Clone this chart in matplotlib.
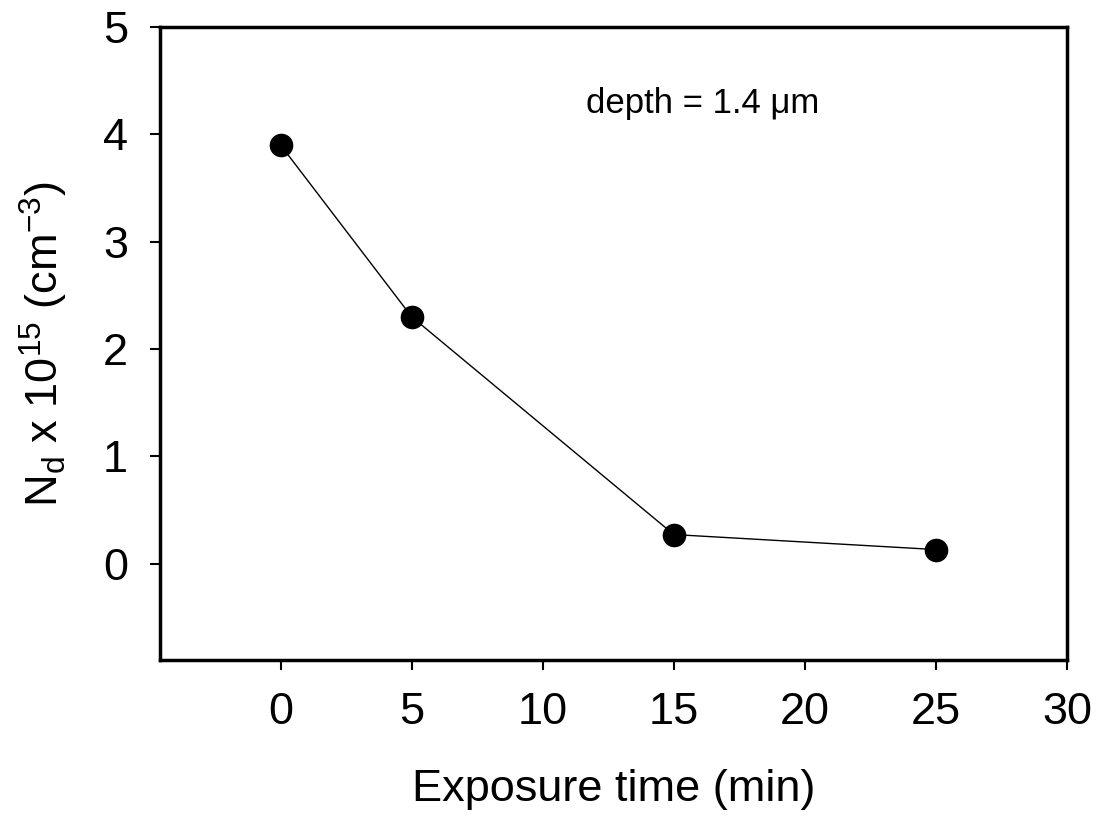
import matplotlib.pyplot as plt

plt.rcParams['font.family'] = ['Liberation Sans', 'DejaVu Sans']
plt.rcParams['mathtext.fontset'] = 'custom'
plt.rcParams['mathtext.rm'] = 'Liberation Sans'

exposure_min = [0, 5, 15, 25]
nd_e15 = [3.9, 2.3, 0.27, 0.13]

fig = plt.figure(figsize=(11, 8.22), dpi=100)
ax = fig.add_axes([0.1455, 0.197, 0.8245, 0.77])

ax.plot(exposure_min, nd_e15, color='black', lw=1.0, marker='o', ms=16,
        mfc='black', mec='black')

ax.set_xlim(-4.6, 30)
ax.set_ylim(-0.9, 5)
ax.set_xticks([0, 5, 10, 15, 20, 25, 30])
ax.set_yticks([0, 1, 2, 3, 4, 5])

for s in ax.spines.values():
    s.set_linewidth(2.5)
ax.tick_params(direction='out', length=7, width=1.5, labelsize=32.5, pad=16)

ax.set_xlabel('Exposure time (min)', fontsize=32.5, labelpad=26)
ax.set_ylabel(r'N$_\mathregular{d}$ x 10$^\mathregular{15}$ (cm$^\mathregular{-3}$)',
              fontsize=32.5, labelpad=24)

ax.text(16.1, 4.20, 'depth = 1.4 μm', fontsize=25, ha='center', va='baseline')

fig.savefig('out.png', dpi=100)
